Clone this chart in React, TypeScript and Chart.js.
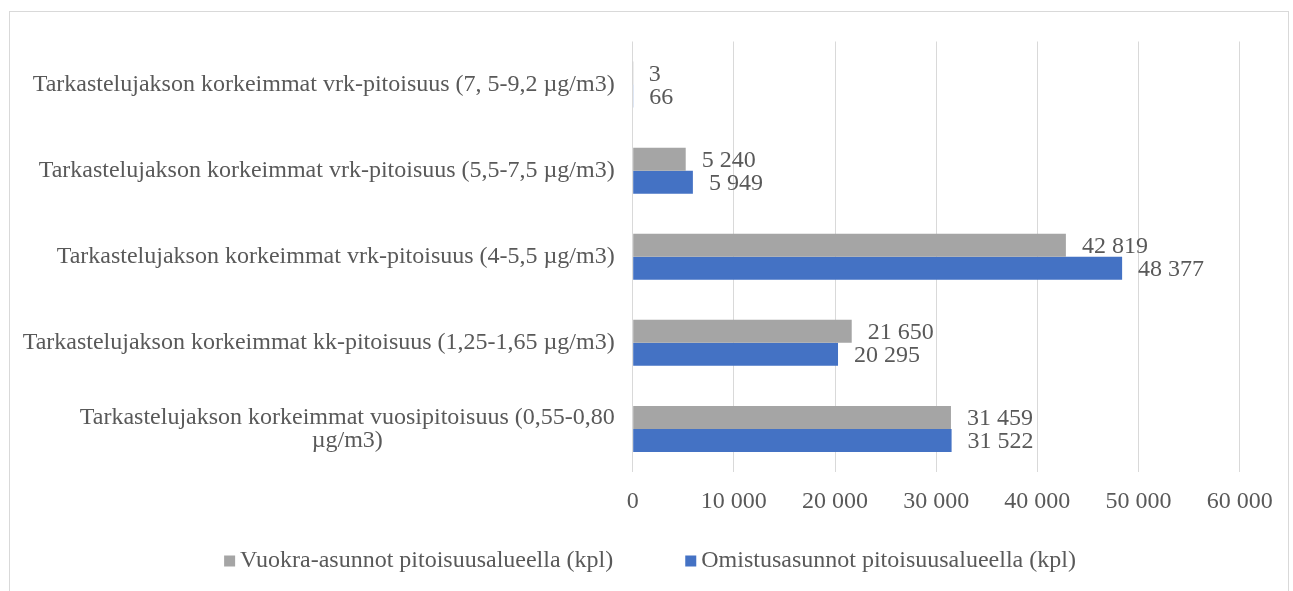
import React, { useEffect, useRef } from "react";
import { Chart, registerables } from "chart.js";

Chart.register(...registerables);

const categories: string[][] = [
  ["Tarkastelujakson korkeimmat vrk-pitoisuus (7, 5-9,2 µg/m3)"],
  ["Tarkastelujakson korkeimmat vrk-pitoisuus (5,5-7,5 µg/m3)"],
  ["Tarkastelujakson korkeimmat vrk-pitoisuus (4-5,5 µg/m3)"],
  ["Tarkastelujakson korkeimmat kk-pitoisuus (1,25-1,65 µg/m3)"],
  ["Tarkastelujakson korkeimmat vuosipitoisuus (0,55-0,80", "µg/m3)"],
];
const rentalValues: number[] = [3, 5240, 42819, 21650, 31459];
const ownedValues: number[] = [66, 5949, 48377, 20295, 31522];
const seriesNames: string[] = [
  "Vuokra-asunnot pitoisuusalueella (kpl)",
  "Omistusasunnot pitoisuusalueella (kpl)",
];
const seriesColors: string[] = ["#a5a5a5", "#4472c4"];
const xTickValues: number[] = [0, 10000, 20000, 30000, 40000, 50000, 60000];

const FONT = "'Liberation Serif', 'Times New Roman', serif";
const TEXT = "#595959";
const FONT_SIZE = 24;

function fmt(n: number): string {
  return String(n).replace(/\B(?=(\d{3})+(?!\d))/g, " ");
}

const customText = {
  id: "customText",
  afterDraw(chart: any) {
    const ctx = chart.ctx as CanvasRenderingContext2D;
    ctx.save();
    ctx.font = `${FONT_SIZE}px ${FONT}`;
    ctx.fillStyle = TEXT;
    ctx.textBaseline = "middle";

    // data labels
    chart.data.datasets.forEach((ds: any, di: number) => {
      const meta = chart.getDatasetMeta(di);
      meta.data.forEach((el: any, i: number) => {
        ctx.textAlign = "left";
        ctx.fillText(fmt(ds.data[i]), el.x + 16, el.y + 1.5);
      });
    });

    // category labels
    const ys = chart.scales.y;
    const rightX = ys.right - 18;
    categories.forEach((lines, i) => {
      const y = ys.getPixelForValue(i);
      if (lines.length === 1) {
        ctx.textAlign = "right";
        ctx.fillText(lines[0], rightX, y);
      } else {
        const w = Math.max(...lines.map((l) => ctx.measureText(l).width));
        const cx = rightX - w / 2;
        ctx.textAlign = "center";
        const lh = 23;
        lines.forEach((l, k) => {
          ctx.fillText(l, cx, y + (k - (lines.length - 1) / 2) * lh);
        });
      }
    });

    // legend
    const box = 11;
    const gapBT = 5;
    const gapItems = 72;
    const widths = seriesNames.map((n) => ctx.measureText(n).width);
    const total =
      widths.reduce((a, w) => a + box + gapBT + w, 0) + gapItems * (seriesNames.length - 1);
    let x = 650 - total / 2;
    const ly = 561;
    seriesNames.forEach((n, i) => {
      ctx.fillStyle = seriesColors[i];
      ctx.fillRect(x, ly - box / 2, box, box);
      ctx.fillStyle = TEXT;
      ctx.textAlign = "left";
      ctx.fillText(n, x + box + gapBT, ly);
      x += box + gapBT + widths[i] + gapItems;
    });

    ctx.restore();
  },
};

export default function App() {
  const canvasRef = useRef<HTMLCanvasElement | null>(null);

  useEffect(() => {
    if (!canvasRef.current) return;
    Chart.defaults.font.family = FONT;
    Chart.defaults.color = TEXT;
    const chart = new Chart(canvasRef.current, {
      type: "bar",
      data: {
        labels: categories.map((c) => c.join(" ")),
        datasets: [
          {
            label: seriesNames[0],
            data: rentalValues,
            backgroundColor: seriesColors[0],
            categoryPercentage: 0.534,
            barPercentage: 1,
          },
          {
            label: seriesNames[1],
            data: ownedValues,
            backgroundColor: seriesColors[1],
            categoryPercentage: 0.534,
            barPercentage: 1,
          },
        ],
      },
      options: {
        indexAxis: "y",
        animation: false,
        responsive: false,
        devicePixelRatio: 1,
        layout: { padding: { top: 41.5, right: 53.3, left: 0, bottom: 0 } },
        plugins: {
          legend: { display: false },
          tooltip: { enabled: false },
        },
        scales: {
          x: {
            min: xTickValues[0],
            max: xTickValues[xTickValues.length - 1],
            afterBuildTicks: (scale: any) => {
              scale.ticks = xTickValues.map((v) => ({ value: v }));
            },
            afterFit: (scale: any) => {
              scale.height = 119;
            },
            grid: { color: "#d9d9d9", lineWidth: 1, drawTicks: false },
            border: { display: false },
            ticks: {
              padding: 15,
              color: TEXT,
              font: { size: FONT_SIZE, family: FONT },
              callback: (v: any) => fmt(Number(v)),
            },
          },
          y: {
            grid: { display: false },
            border: { display: false },
            ticks: { display: false },
            afterFit: (scale: any) => {
              scale.width = 632.7;
            },
          },
        },
      },
      plugins: [customText],
    });
    return () => chart.destroy();
  }, []);

  return (
    <div style={{ position: "fixed", left: 0, top: 0, width: 1293, height: 591, background: "#fff" }}>
      <div
        style={{
          position: "absolute",
          left: 9,
          top: 11,
          width: 1280,
          height: 600,
          border: "1px solid #d9d9d9",
          boxSizing: "border-box",
        }}
      />
      <canvas
        ref={canvasRef}
        width={1293}
        height={591}
        style={{ position: "absolute", left: 0, top: 0, width: 1293, height: 591 }}
      />
    </div>
  );
}
